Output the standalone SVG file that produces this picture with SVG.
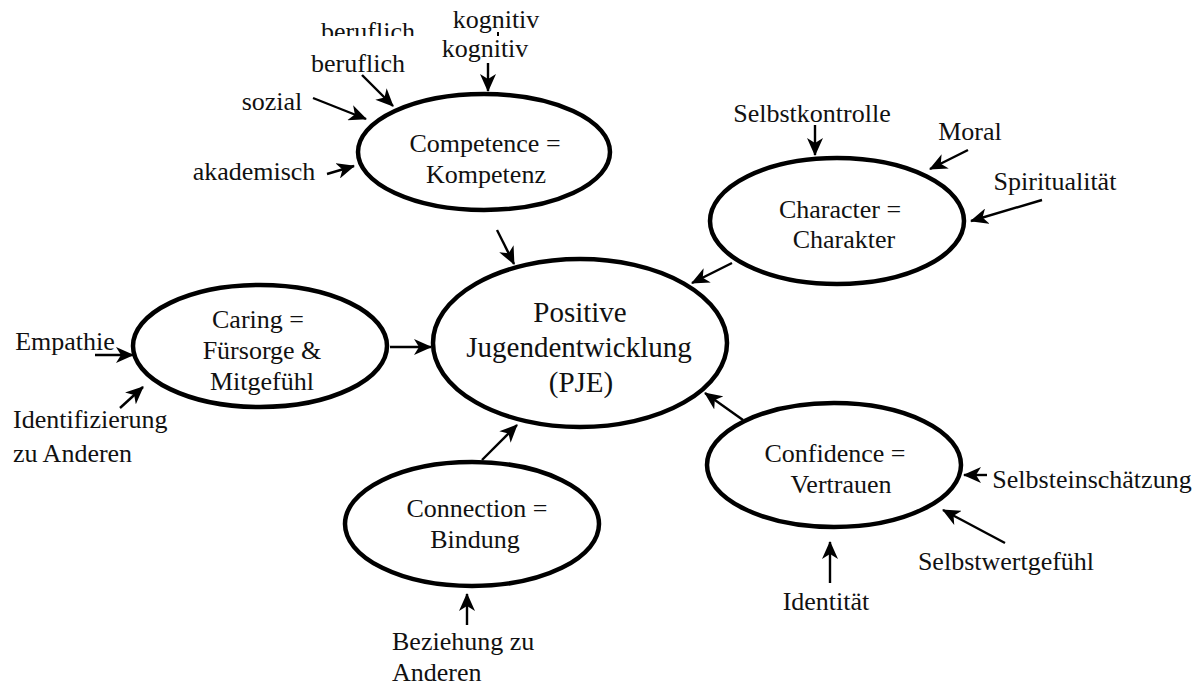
<svg xmlns="http://www.w3.org/2000/svg" width="1201" height="686" viewBox="0 0 1201 686">
<style>
text{font-family:"Liberation Serif","Times New Roman",serif;font-size:26px;fill:#111;}
.c{text-anchor:middle;}
.big{font-size:29px;}
.node{fill:#fff;stroke:#000;stroke-width:4.5;}
.arr{stroke:#000;stroke-width:2.4;fill:none;marker-end:url(#ah);}
</style>
<defs>
<marker id="ah" viewBox="0 0 18 16" refX="17" refY="8" markerWidth="18" markerHeight="16" markerUnits="userSpaceOnUse" orient="auto">
<path d="M0,0 L18,8 L0,16 L5,8 z" fill="#000"/>
</marker>
<clipPath id="clipTop"><rect x="0" y="0" width="1201" height="36"/></clipPath>
</defs>
<rect width="1201" height="686" fill="#fff"/>

<g id="connectors">
<line class="arr" x1="488" y1="63" x2="488" y2="91"/>
<line class="arr" x1="362" y1="75" x2="393" y2="106"/>
<line class="arr" x1="313" y1="98" x2="366" y2="119"/>
<line class="arr" x1="327" y1="174" x2="354" y2="166"/>
<line class="arr" x1="497" y1="230" x2="514" y2="264"/>
<line class="arr" x1="815" y1="125" x2="815" y2="155"/>
<line class="arr" x1="968" y1="150" x2="930" y2="169"/>
<line class="arr" x1="1042" y1="200" x2="971" y2="221"/>
<line class="arr" x1="732" y1="263" x2="692" y2="283"/>
<line class="arr" x1="95" y1="355" x2="133" y2="355"/>
<line class="arr" x1="120" y1="408" x2="143" y2="387"/>
<line class="arr" x1="390" y1="347" x2="431" y2="347"/>
<line class="arr" x1="482" y1="460" x2="517" y2="425"/>
<line class="arr" x1="467" y1="625" x2="467" y2="594"/>
<line class="arr" x1="743" y1="420" x2="705" y2="393"/>
<line class="arr" x1="987" y1="475" x2="964" y2="475"/>
<line class="arr" x1="1005" y1="543" x2="943" y2="510"/>
<line class="arr" x1="830" y1="583" x2="830" y2="542"/>
<line x1="498" y1="32" x2="498" y2="36" stroke="#000" stroke-width="2"/>
</g>

<g id="labels">
<text class="c" x="368" y="40" clip-path="url(#clipTop)">beruflich</text>
<text class="c" x="496" y="28">kognitiv</text>
<text class="c" x="485" y="57">kognitiv</text>
<text class="c" x="358" y="72">beruflich</text>
<text class="c" x="272" y="110">sozial</text>
<text class="c" x="254" y="180">akademisch</text>
<text class="c" x="812" y="122">Selbstkontrolle</text>
<text class="c" x="970" y="140">Moral</text>
<text class="c" x="1055" y="190">Spiritualität</text>
<text class="c" x="65" y="350">Empathie</text>
<text x="13" y="428">Identifizierung</text>
<text x="13" y="462">zu Anderen</text>
<text x="392" y="650">Beziehung zu</text>
<text x="392" y="681">Anderen</text>
<text class="c" x="1092" y="488">Selbsteinschätzung</text>
<text class="c" x="1006" y="570">Selbstwertgefühl</text>
<text class="c" x="826" y="610">Identität</text>
</g>

<g id="pje">
<ellipse class="node" cx="580" cy="343" rx="147" ry="84"/>
<text class="c big" x="580" y="322">Positive</text>
<text class="c big" x="579" y="357">Jugendentwicklung</text>
<text class="c big" x="581" y="392">(PJE)</text>
</g>

<g id="competence">
<ellipse class="node" cx="484" cy="152" rx="126" ry="58"/>
<text class="c" x="485" y="152">Competence =</text>
<text class="c" x="486" y="183">Kompetenz</text>
</g>

<g id="character">
<ellipse class="node" cx="837" cy="221" rx="127" ry="63"/>
<text class="c" x="840" y="218">Character =</text>
<text class="c" x="844" y="248">Charakter</text>
</g>

<g id="caring">
<ellipse class="node" cx="260" cy="346" rx="127" ry="61"/>
<text class="c" x="258" y="328">Caring =</text>
<text class="c" x="262" y="359">Fürsorge &amp;</text>
<text class="c" x="262" y="390">Mitgefühl</text>
</g>

<g id="connection">
<ellipse class="node" cx="472" cy="524" rx="127" ry="62"/>
<text class="c" x="477" y="517">Connection =</text>
<text class="c" x="475" y="548">Bindung</text>
</g>

<g id="confidence">
<ellipse class="node" cx="834" cy="465" rx="127" ry="62"/>
<text class="c" x="835" y="462">Confidence =</text>
<text class="c" x="841" y="493">Vertrauen</text>
</g>
</svg>
